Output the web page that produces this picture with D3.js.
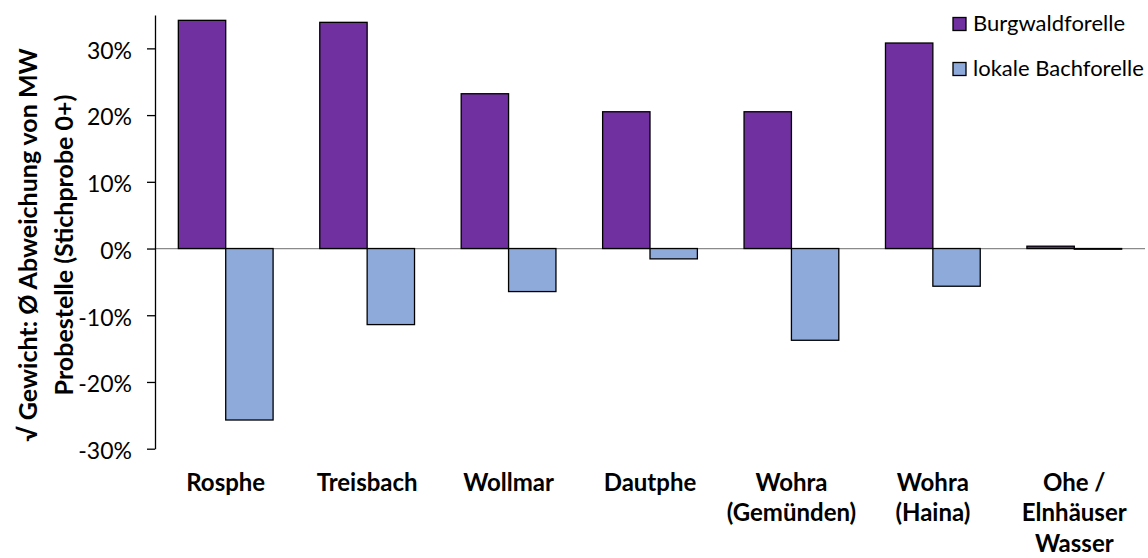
<!DOCTYPE html>
<html>
<head>
<meta charset="utf-8">
<script src="https://cdn.jsdelivr.net/npm/d3@7"></script>
<style>
  body { margin: 0; background: #fff; }
  text { font-family: Lato, "Open Sans", sans-serif; fill: #000; }
</style>
</head>
<body>
<script>
// data
const sites = ["Rosphe", "Treisbach", "Wollmar", "Dautphe", "Wohra (Gemünden)", "Wohra (Haina)", "Ohe / Elnhäuser Wasser"];
const siteLabels = [["Rosphe"], ["Treisbach"], ["Wollmar"], ["Dautphe"], ["Wohra", "(Gemünden)"], ["Wohra", "(Haina)"], ["Ohe /", "Elnhäuser", "Wasser"]];
const seriesNames = ["Burgwaldforelle", "lokale Bachforelle"];
const burgwald = [0.342, 0.339, 0.232, 0.205, 0.205, 0.308, 0.0035];
const lokal = [-0.257, -0.114, -0.0645, -0.0155, -0.1375, -0.0565, -0.001];
const yTicks = [-0.3, -0.2, -0.1, 0, 0.1, 0.2, 0.3];
const colors = ["#7030A0", "#8EAADB"];
const yTitle = ["√ Gewicht: Ø Abweichung von MW", "Probestelle (Stichprobe 0+)"];

const width = 1148, height = 558;
const rows = sites.map((s, i) => ({site: s, values: [burgwald[i], lokal[i]]}));

const svg = d3.select("body").append("svg")
  .attr("width", width)
  .attr("height", height);

const x0 = d3.scaleBand()
  .domain(sites)
  .range([155, 1145])
  .paddingInner(0.33)
  .paddingOuter(0.165);

const x1 = d3.scaleBand()
  .domain(seriesNames)
  .range([0, x0.bandwidth()]);

const y = d3.scaleLinear()
  .domain([-0.3, 0.35])
  .range([448.7, 15]);

// horizontal axis line at 0
svg.append("line")
  .attr("x1", 155).attr("x2", 1145)
  .attr("y1", y(0)).attr("y2", y(0))
  .attr("stroke", "#8a8a8a")
  .attr("stroke-width", 1.2);

// bars
const groups = svg.selectAll("g.site")
  .data(rows)
  .enter().append("g")
  .attr("class", "site")
  .attr("transform", d => "translate(" + x0(d.site) + ",0)");

groups.selectAll("rect")
  .data(d => d.values.map((v, j) => ({name: seriesNames[j], value: v, idx: j})))
  .enter().append("rect")
  .attr("x", d => x1(d.name))
  .attr("width", x1.bandwidth())
  .attr("y", d => y(Math.max(0, d.value)))
  .attr("height", d => Math.abs(y(d.value) - y(0)))
  .attr("fill", d => colors[d.idx])
  .attr("stroke", "#000")
  .attr("stroke-width", 1.3);

// y axis
const yAxis = svg.append("g")
  .attr("transform", "translate(155,0)")
  .call(d3.axisLeft(y)
    .tickValues(yTicks)
    .tickFormat(d => Math.round(d * 100) + "%")
    .tickSizeInner(8)
    .tickSizeOuter(0)
    .tickPadding(15));

yAxis.select(".domain").attr("stroke", "#000").attr("stroke-width", 1.3);
yAxis.selectAll(".tick line").attr("stroke", "#000").attr("stroke-width", 1.3);
yAxis.selectAll(".tick text")
  .attr("dy", "0.43em")
  .style("font-family", "Lato, sans-serif")
  .style("font-size", "23px")
  .attr("fill", "#000");

// category labels
const labels = svg.selectAll("text.cat")
  .data(rows)
  .enter().append("text")
  .attr("class", "cat")
  .attr("x", d => x0(d.site) + x0.bandwidth() / 2)
  .attr("y", 491)
  .attr("text-anchor", "middle")
  .style("font-size", "24px")
  .style("font-weight", "bold");

labels.selectAll("tspan")
  .data((d, i) => siteLabels[i])
  .enter().append("tspan")
  .attr("x", function() { return d3.select(this.parentNode).attr("x"); })
  .attr("dy", (d, i) => i === 0 ? 0 : 30.3)
  .text(d => d);

// y axis title
svg.selectAll("text.ytitle")
  .data(yTitle)
  .enter().append("text")
  .attr("class", "ytitle")
  .attr("transform", (d, i) => "translate(" + (i === 0 ? 37 : 72.5) + ",245) rotate(-90)")
  .attr("text-anchor", "middle")
  .style("font-size", "25px")
  .style("font-weight", "bold")
  .text(d => d);

// legend
const legend = svg.selectAll("g.legend")
  .data(seriesNames)
  .enter().append("g")
  .attr("class", "legend")
  .attr("transform", (d, i) => "translate(953," + (17.5 + i * 45) + ")");

legend.append("rect")
  .attr("width", 13)
  .attr("height", 13)
  .attr("fill", (d, i) => colors[i])
  .attr("stroke", "#000")
  .attr("stroke-width", 1.3);

legend.append("text")
  .attr("x", 20)
  .attr("y", 13)
  .style("font-size", "22px")
  .text(d => d);
</script>
</body>
</html>
